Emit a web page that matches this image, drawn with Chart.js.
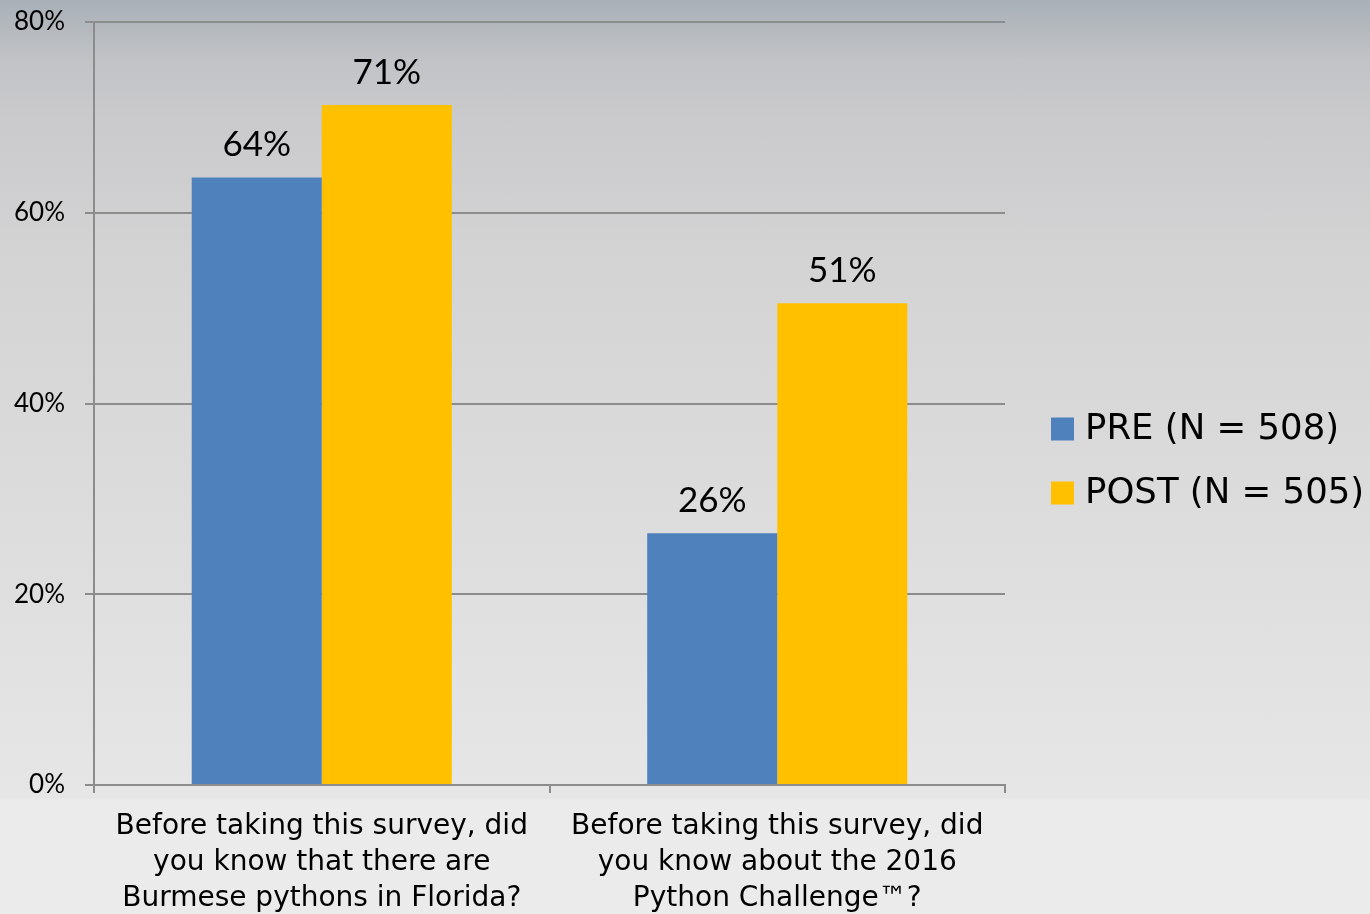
<!DOCTYPE html>
<html>
<head>
<meta charset="utf-8">
<script src="https://cdn.jsdelivr.net/npm/chart.js@4.4.1/dist/chart.umd.min.js"></script>
<style>
  html, body { margin: 0; padding: 0; width: 1370px; height: 914px; overflow: hidden; }
  body {
    background: linear-gradient(to bottom, #a8b0b8 0px, #b5b9be 30px, #c1c3c6 60px, #cacacc 120px, #d3d3d4 250px, #dadada 450px, #e1e1e1 650px, #e6e6e6 798px, #ebebeb 800px, #ebebeb 914px);
  }
</style>
</head>
<body>
<canvas id="c" width="1370" height="914"></canvas>
<script>
const categories = [
  ["Before taking this survey, did", "you know that there are", "Burmese pythons in Florida?"],
  ["Before taking this survey, did", "you know about the 2016", "Python Challenge\u2122?"]
];
const seriesNames = ["PRE (N = 508)", "POST (N = 505)"];
const preValues = [63.7, 26.4];
const postValues = [71.3, 50.5];
const yTicks = [0, 20, 40, 60, 80];
const seriesColors = ["#4f81bd", "#ffc000"];

const WORD_FONT = "'DejaVu Sans', sans-serif";
const DIGIT_FONT = "Lato, 'DejaVu Sans', sans-serif";

const dataLabels = {
  id: 'dataLabels',
  afterDatasetsDraw(chart) {
    const ctx = chart.ctx;
    ctx.save();
    ctx.font = "35px " + DIGIT_FONT;
    ctx.fillStyle = "#000";
    ctx.textAlign = "center";
    ctx.textBaseline = "alphabetic";
    chart.data.datasets.forEach((ds, i) => {
      const meta = chart.getDatasetMeta(i);
      meta.data.forEach((bar, j) => {
        ctx.fillText(Math.round(ds.data[j]) + "%", bar.x, bar.y - 21);
      });
    });
    ctx.restore();
  }
};

// Legend drawn from the datasets' own labels and colours, placed right of the plot
const sideLegend = {
  id: 'sideLegend',
  afterDraw(chart) {
    const ctx = chart.ctx;
    const area = chart.chartArea;
    const boxX = area.right + 46;
    const box = 23;
    const gap = 64;
    const n = chart.data.datasets.length;
    const firstY = chart.height / 2 + 4 - gap * (n - 1) / 2;
    ctx.save();
    ctx.font = "35.5px " + WORD_FONT;
    ctx.textAlign = "left";
    ctx.textBaseline = "middle";
    chart.data.datasets.forEach((ds, i) => {
      const cy = firstY + i * gap;
      ctx.fillStyle = ds.backgroundColor;
      ctx.fillRect(boxX, cy - box / 2, box, box);
      ctx.fillStyle = "#000";
      ctx.fillText(ds.label, boxX + box + 11, cy + 1);
    });
    ctx.restore();
  }
};

new Chart(document.getElementById('c'), {
  type: 'bar',
  data: {
    labels: categories,
    datasets: [
      { label: seriesNames[0], data: preValues, backgroundColor: seriesColors[0], borderWidth: 0 },
      { label: seriesNames[1], data: postValues, backgroundColor: seriesColors[1], borderWidth: 0 }
    ]
  },
  options: {
    responsive: false,
    animation: false,
    devicePixelRatio: 1,
    layout: { padding: { top: 0, left: 0, right: 365, bottom: 0 } },
    categoryPercentage: 0.571,
    barPercentage: 1.0,
    plugins: {
      tooltip: { enabled: false },
      legend: { display: false }
    },
    scales: {
      x: {
        afterFit(scale) { scale.height = 129; },
        grid: { display: true, drawOnChartArea: false, tickLength: 8, color: '#8c8c8c', lineWidth: 2, offset: true },
        border: { display: true, color: '#8c8c8c', width: 2 },
        ticks: { color: '#000', padding: 16, maxRotation: 0, autoSkip: false, font: { family: WORD_FONT, size: 28, lineHeight: 36 / 28 } }
      },
      y: {
        min: 0, max: 80,
        afterBuildTicks(scale) { scale.ticks = yTicks.map(v => ({ value: v })); },
        afterFit(scale) { scale.width = 94; scale.paddingTop = 22; },
        grid: { color: '#8c8c8c', lineWidth: 2, tickLength: 9 },
        border: { display: true, color: '#8c8c8c', width: 2 },
        ticks: { color: '#000', padding: 20, callback: v => v + '%', font: { family: DIGIT_FONT, size: 26 } }
      }
    }
  },
  plugins: [dataLabels, sideLegend]
});
</script>
</body>
</html>
